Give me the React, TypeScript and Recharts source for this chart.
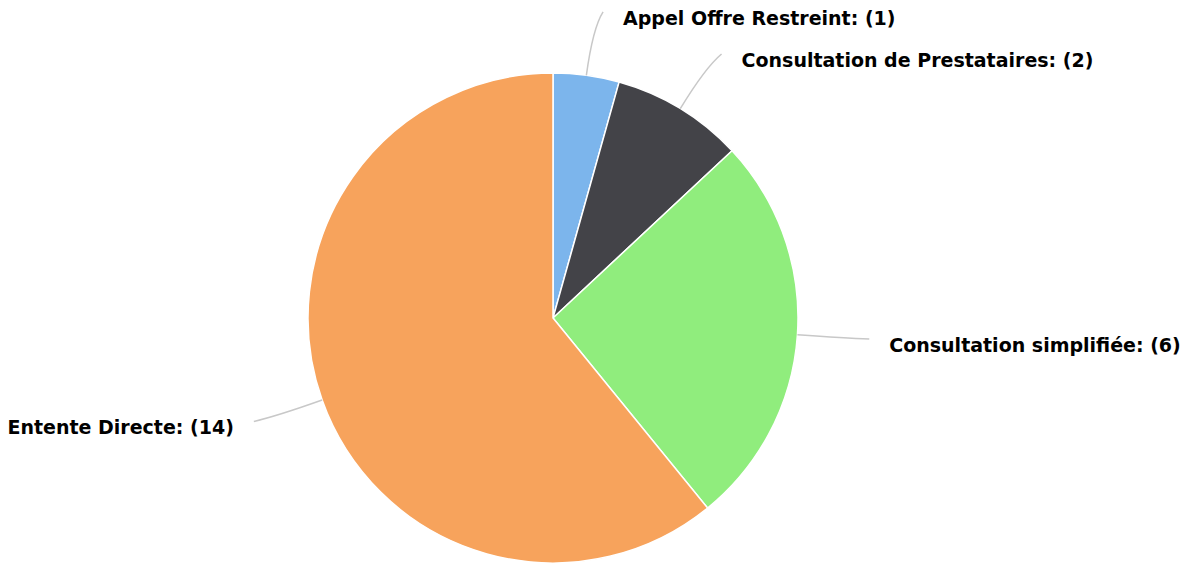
import { PieChart, Pie, Cell } from 'recharts'

const categories = [
  'Appel Offre Restreint',
  'Consultation de Prestataires',
  'Consultation simplifiée',
  'Entente Directe',
]
const counts = [1, 2, 6, 14]
const COLORS = ['#7cb5ec', '#434348', '#90ed7d', '#f7a35c']

const data = categories.map((name, i) => ({ name, value: counts[i] }))

const RAD = Math.PI / 180

const renderLabel = (props: any) => {
  const { cx, cy, midAngle, outerRadius, name, value } = props
  const cos = Math.cos(-midAngle * RAD)
  const sin = Math.sin(-midAngle * RAD)
  const side = cos >= 0 ? 1 : -1
  const sx = cx + outerRadius * cos
  const sy = cy + outerRadius * sin
  const qx = cx + (outerRadius + 48) * cos
  const qy = cy + (outerRadius + 48) * sin
  const ex = cx + (outerRadius + 64) * cos + side * 8
  const ey = cy + (outerRadius + 64) * sin
  return (
    <g>
      <path
        d={`M${sx},${sy} Q${qx},${qy} ${ex},${ey}`}
        stroke="#c8c8c8"
        strokeWidth={1.5}
        fill="none"
      />
      <text
        x={ex + side * 20}
        y={ey + 6}
        textAnchor={side > 0 ? 'start' : 'end'}
        dominantBaseline="central"
        fill="#000"
        fontSize={19}
        fontWeight="bold"
        fontFamily="'DejaVu Sans', sans-serif"
      >
        {`${name}: (${value})`}
      </text>
    </g>
  )
}

export default function App() {
  return (
    <div style={{ width: 1200, height: 563, background: '#fff' }}>
      <style>{`body{margin:0}`}</style>
      <PieChart width={1200} height={563} margin={{ top: 0, right: 0, bottom: 0, left: 0 }}>
        <Pie
          data={data}
          dataKey="value"
          nameKey="name"
          cx={553}
          cy={318}
          outerRadius={245}
          startAngle={90}
          endAngle={-270}
          stroke="#ffffff"
          strokeWidth={1.5}
          label={renderLabel}
          labelLine={false}
          isAnimationActive={false}
        >
          {data.map((_, i) => (
            <Cell key={i} fill={COLORS[i % COLORS.length]} />
          ))}
        </Pie>
      </PieChart>
    </div>
  )
}
